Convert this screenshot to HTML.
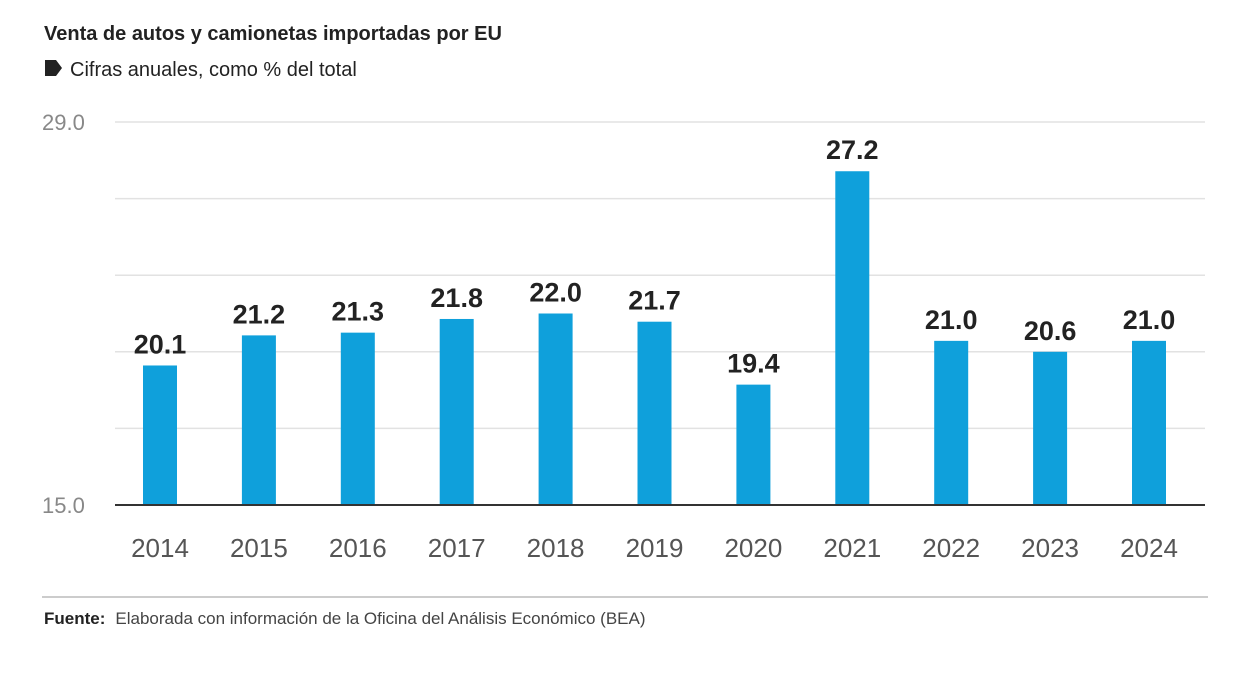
<!DOCTYPE html>
<html><head><meta charset="utf-8"><style>
body{margin:0;background:#fff;width:1260px;height:670px;overflow:hidden;font-family:"Liberation Sans",sans-serif}
</style></head><body>
<svg width="1260" height="670">
<text x="44" y="40" font-size="20" font-weight="bold" fill="#222">Venta de autos y camionetas importadas por EU</text>
<path d="M45,60 h11 l6,8 l-6,8 h-11z" fill="#222"/>
<text x="70" y="76" font-size="20" fill="#222">Cifras anuales, como % del total</text>
<g id="grid"></g><g id="bars"></g>
<line x1="42" y1="597" x2="1208" y2="597" stroke="#999" stroke-width="1"/>
<text x="44" y="624" font-size="17" fill="#222"><tspan font-weight="bold">Fuente:</tspan><tspan dx="10" fill="#444">Elaborada con información de la Oficina del Análisis Económico (BEA)</tspan></text>
</svg>
<script>
const years=["2014","2015","2016","2017","2018","2019","2020","2021","2022","2023","2024"];
const values=[20.1,21.2,21.3,21.8,22.0,21.7,19.4,27.2,21.0,20.6,21.0];
const yTickLabels=["15.0","29.0"];
const yMin=15,yMax=29;
const ns="http://www.w3.org/2000/svg";
const plotTop=122,base=505,x0=160,step=98.9,bw=34;
const yScale=v=>base-(v-yMin)/(yMax-yMin)*(base-plotTop);
const xc=i=>x0+i*step;
function mk(t,a,p){const e=document.createElementNS(ns,t);for(const k in a)e.setAttribute(k,a[k]);p.appendChild(e);return e;}
const g=document.getElementById('grid'),b=document.getElementById('bars');
for(let k=1;k<5;k++){const v=yMin+k*(yMax-yMin)/5;const l=mk('line',{x1:115,x2:1205,y1:yScale(v),y2:yScale(v),stroke:'#e2e2e2','stroke-width':1.5},g);

}
const gl=mk('line',{x1:115,x2:1205,y1:yScale(yMax),y2:yScale(yMax),stroke:'#e2e2e2','stroke-width':1.5},g);


[yMin,yMax].forEach((v,i)=>{const t=mk('text',{x:42,y:yScale(v)+8,'font-size':22,fill:'#888'},g);t.textContent=yTickLabels[i];

});
values.forEach((v,i)=>{
const r=mk('rect',{x:xc(i)-bw/2,y:yScale(v),width:bw,height:base-yScale(v),fill:'#0fa0db'},b);


const t=mk('text',{x:xc(i),y:yScale(v)-12,'font-size':27,'font-weight':'bold',fill:'#222','text-anchor':'middle'},b);t.textContent=v.toFixed(1);


const yl=mk('text',{x:xc(i),y:557,'font-size':26,fill:'#555','text-anchor':'middle'},b);yl.textContent=years[i];


});
const ax=mk('line',{x1:115,x2:1205,y1:base,y2:base,stroke:'#333','stroke-width':2},b);


</script>
</body></html>
